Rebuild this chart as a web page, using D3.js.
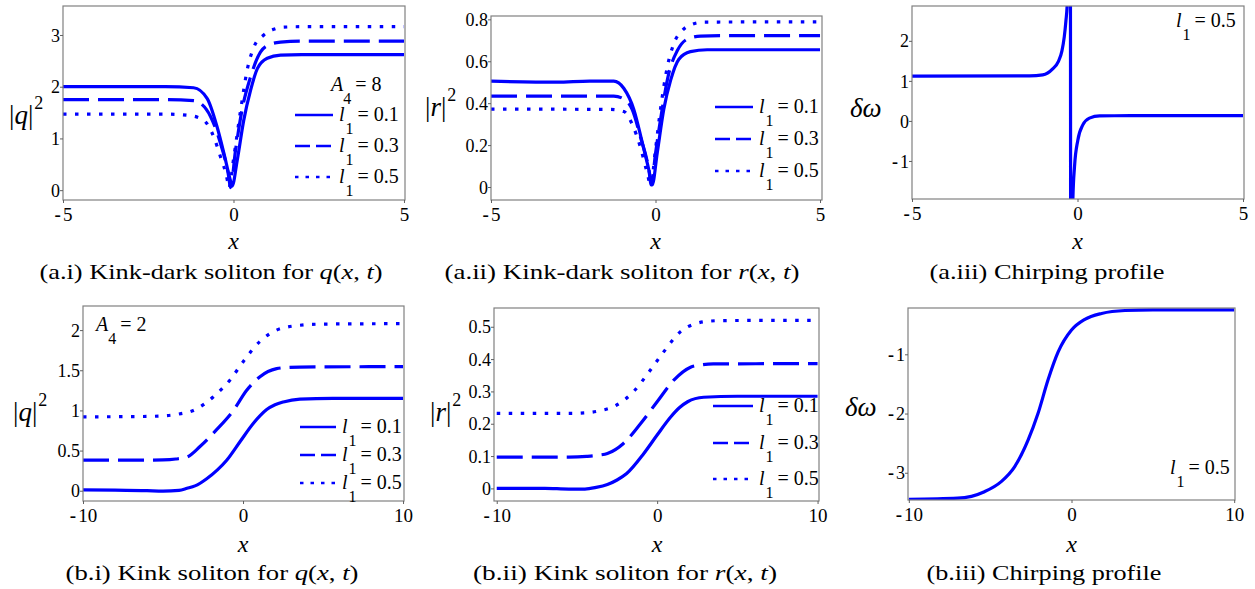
<!DOCTYPE html>
<html>
<head>
<meta charset="utf-8">
<script src="https://cdn.jsdelivr.net/npm/d3@7"></script>
<style>
  body { margin: 0; background: #fff; }
  svg text { font-family: "Liberation Serif", "Times New Roman", serif; fill: #000; }
</style>
</head>
<body>
<svg id="chart" width="1255" height="589"></svg>
<script>
// ---- data: [x, value] ----
const aiSolid  = [[-5,2.0],[-2,2.0],[-1.17,1.98],[-0.77,1.77],[-0.48,1.22],[-0.28,0.71],[-0.09,0.19],[-0.04,0.08],[0.11,0.58],[0.30,1.35],[0.5,1.93],[0.7,2.35],[0.99,2.55],[1.38,2.61],[2,2.62],[5,2.62]];
const aiDashed = [[-5,1.75],[-2,1.75],[-1.17,1.73],[-0.97,1.68],[-0.67,1.42],[-0.38,0.90],[-0.14,0.26],[-0.09,0.05],[0.06,0.77],[0.25,1.55],[0.5,2.19],[0.79,2.67],[1.08,2.82],[1.38,2.86],[2,2.88],[5,2.88]];
const aiDotted = [[-5,1.47],[-2,1.47],[-1.26,1.44],[-0.87,1.35],[-0.58,1.03],[-0.38,0.64],[-0.18,0.19],[-0.14,0.04],[0.01,0.64],[0.21,1.55],[0.40,2.32],[0.6,2.77],[0.89,3.0],[1.18,3.11],[1.47,3.15],[2,3.16],[5,3.16]];

const aiiSolid  = [[-5,0.505],[-3,0.50],[-2,0.505],[-1.27,0.505],[-0.96,0.47],[-0.66,0.37],[-0.40,0.21],[-0.20,0.08],[-0.10,0.01],[0.05,0.16],[0.25,0.37],[0.46,0.51],[0.71,0.61],[1.06,0.646],[1.57,0.655],[5,0.655]];
const aiiDashed = [[-5,0.434],[-1.27,0.434],[-0.96,0.42],[-0.71,0.37],[-0.46,0.24],[-0.20,0.08],[-0.13,0.01],[0.0,0.16],[0.20,0.37],[0.40,0.54],[0.66,0.65],[0.96,0.705],[1.37,0.72],[2,0.722],[5,0.722]];
const aiiDotted = [[-5,0.372],[-1.37,0.37],[-0.96,0.36],[-0.71,0.30],[-0.46,0.19],[-0.25,0.065],[-0.15,0.01],[0.0,0.18],[0.15,0.37],[0.36,0.574],[0.56,0.686],[0.81,0.746],[1.12,0.777],[1.47,0.787],[5,0.788]];

const aiiiChirp = [[-5,1.12],[-1.45,1.125],[-1.05,1.15],[-0.75,1.3],[-0.58,1.48],[-0.47,1.75],[-0.40,2.1],[-0.35,2.5],[-0.31,2.95],[-0.22,8],[-0.2,-8],[-0.14,-1.97],[-0.09,-1.14],[0.01,-0.48],[0.16,-0.1],[0.36,0.07],[0.67,0.125],[1.6,0.13],[5,0.13]];

const biSolid  = [[-10,0.01],[-8,0.008],[-6,0.0],[-5,-0.005],[-4,0.005],[-3.5,0.03],[-3,0.06],[-2.27,0.15],[-1.6,0.26],[-1.02,0.38],[-0.19,0.61],[0.65,0.84],[1.1,0.94],[1.48,1.01],[2,1.07],[2.52,1.105],[3.56,1.14],[5.6,1.15],[10,1.15]];
const biDashed = [[-10,0.38],[-6,0.38],[-5,0.383],[-4.2,0.395],[-3.5,0.42],[-2.69,0.55],[-1.65,0.76],[-0.6,1.0],[0.23,1.25],[1.06,1.42],[2.1,1.52],[2.8,1.535],[3.56,1.54],[10,1.545]];
const biDotted = [[-10,0.92],[-6,0.925],[-4.8,0.935],[-4,0.955],[-3.1,1.0],[-1.85,1.17],[-0.81,1.38],[0.02,1.61],[1.06,1.86],[2.1,2.0],[2.8,2.04],[3.56,2.06],[5,2.075],[10,2.08]];

const biiSolid  = [[-10,0.0],[-7,0.0],[-5.5,-0.002],[-4.5,-0.002],[-3.8,0.003],[-3.1,0.012],[-2.5,0.026],[-1.9,0.046],[-0.83,0.108],[0,0.165],[0.83,0.22],[1.4,0.25],[1.9,0.268],[2.9,0.282],[5,0.285],[10,0.285]];
const biiDashed = [[-10,0.097],[-5.5,0.097],[-4.4,0.099],[-3.6,0.103],[-3.1,0.108],[-2.1,0.139],[-1.04,0.20],[0,0.268],[1.04,0.335],[2.08,0.375],[2.7,0.382],[3.5,0.385],[10,0.386]];
const biiDotted = [[-10,0.232],[-5.5,0.232],[-4.4,0.234],[-3.5,0.241],[-2.7,0.253],[-1.46,0.30],[-0.42,0.366],[0.42,0.423],[1.46,0.485],[2.5,0.511],[3.2,0.517],[3.96,0.519],[10,0.52]];

const biiiChirp = [[-10,-3.45],[-7,-3.43],[-5.35,-3.32],[-4.32,-3.15],[-3.5,-2.9],[-2.67,-2.45],[-2.06,-2.0],[-1.44,-1.43],[-0.82,-0.96],[0,-0.59],[0.82,-0.41],[1.85,-0.31],[3.29,-0.26],[5,-0.25],[10,-0.25]];

// ticks
const xTicksA = [-5, 0, 5];
const xTicksB = [-10, 0, 10];
const yTicksAi = [0, 1, 2, 3];
const yTicksAii = [0, 0.2, 0.4, 0.6, 0.8];
const yTicksAiii = [-1, 0, 1, 2];
const yTicksBi = [0, 0.5, 1, 1.5, 2];
const yTicksBii = [0, 0.1, 0.2, 0.3, 0.4, 0.5];
const yTicksBiii = [-3, -2, -1];

const legendValues = ['0.1', '0.3', '0.5'];

// ---- drawing ----
const svg = d3.select('#chart');
const blue = '#0000ff';
const serif = '"Liberation Serif", "Times New Roman", serif';
const dash = { solid: null, dashed: '26,9', dotted: '3.5,8.5' };
const legendDash = { solid: null, dashed: '15,6', dotted: '3.5,7' };

function tickText(sel, d) {
    sel.attr('font-family', serif);
    if (d < 0) {
        sel.append('tspan').attr('font-weight', 'bold').text('-');
        sel.append('tspan').attr('dx', 2).text(String(-d));
    } else {
        sel.text(String(d));
    }
}

// "l" with subscript 1 and "= v"
function lText(g, x, y, v) {
    const t = g.append('text').attr('x', x).attr('y', y).attr('font-size', 20);
    t.append('tspan').attr('font-style', 'italic').text('l');
    t.append('tspan').attr('font-size', 16).attr('dy', 13).attr('dx', 1).text('1');
    t.append('tspan').attr('dy', -13).attr('dx', 4).text('= ' + v);
}

function aText(g, x, y, v) {
    const t = g.append('text').attr('x', x).attr('y', y).attr('font-size', 20);
    t.append('tspan').attr('font-style', 'italic').text('A');
    t.append('tspan').attr('font-size', 16).attr('dy', 13).text('4');
    t.append('tspan').attr('dy', -13).attr('dx', 4).text('= ' + v);
}

function panel(cfg, idx) {
    const [x0, x1, y0, y1] = cfg.box;
    const x = d3.scaleLinear().domain(cfg.xDom).range([x0, x1]);
    const y = d3.scaleLinear().domain(cfg.yDom).range([y1, y0]);
    const g = svg.append('g');

    const clipId = 'clip' + idx;
    svg.append('clipPath').attr('id', clipId)
        .append('rect').attr('x', x0).attr('y', y0).attr('width', x1 - x0).attr('height', y1 - y0);

    const line = d3.line().x(d => x(d[0])).y(d => y(d[1])).curve(d3.curveMonotoneX);
    cfg.series.forEach(s => {
        g.append('path').datum(s.data)
            .attr('clip-path', `url(#${clipId})`)
            .attr('fill', 'none').attr('stroke', blue).attr('stroke-width', 3.2)
            .attr('stroke-dasharray', dash[s.style])
            .attr('d', line);
    });

    // frame
    g.append('rect').attr('x', x0).attr('y', y0).attr('width', x1 - x0).attr('height', y1 - y0)
        .attr('fill', 'none').attr('stroke', '#808080').attr('stroke-width', 1.2);

    const ya = g.append('g').attr('transform', `translate(${x0},0)`)
        .call(d3.axisLeft(y).tickValues(cfg.yTicks).tickSize(3).tickSizeOuter(0).tickFormat(''));
    ya.attr('font-family', null).attr('font-size', null);
    ya.select('.domain').remove();
    ya.selectAll('line').attr('stroke', '#606060');
    ya.selectAll('.tick').each(function (d) {
        const t = d3.select(this).append('text').attr('x', -3).attr('dy', '0.34em')
            .attr('text-anchor', 'end').attr('font-size', 18);
        tickText(t, d);
    });

    const xa = g.append('g').attr('transform', `translate(0,${y1})`)
        .call(d3.axisBottom(x).tickValues(cfg.xTicks).tickSize(3).tickSizeOuter(0).tickFormat(''));
    xa.attr('font-family', null).attr('font-size', null);
    xa.select('.domain').remove();
    xa.selectAll('line').attr('stroke', '#606060');
    xa.selectAll('.tick').each(function (d) {
        const t = d3.select(this).append('text').attr('y', 21)
            .attr('text-anchor', 'middle').attr('font-size', 19);
        tickText(t, d);
    });

    // axis labels
    g.append('text').attr('x', x(0)).attr('y', cfg.xLabelY).attr('text-anchor', 'middle')
        .attr('font-size', 24).attr('font-style', 'italic').text('x');

    const yl = g.append('text').attr('x', cfg.yLabel[0]).attr('y', cfg.yLabel[1]).attr('font-size', 27);
    if (cfg.yLabel[2] === 'dw') {
        yl.attr('font-style', 'italic').text('δω');
    } else {
        yl.append('tspan').text('|');
        yl.append('tspan').attr('font-style', 'italic').text(cfg.yLabel[2]);
        yl.append('tspan').text('|');
        yl.append('tspan').attr('font-size', 18).attr('dy', -15).attr('dx', 1).text('2');
    }

    // caption
    const cap = g.append('text').attr('x', cfg.caption[0]).attr('y', cfg.caption[1])
        .attr('text-anchor', 'middle').attr('font-size', 22)
        .attr('textLength', cfg.caption[4]).attr('lengthAdjust', 'spacingAndGlyphs');
    cap.append('tspan').text(cfg.caption[2]);
    if (cfg.caption[3]) {
        cap.append('tspan').attr('font-style', 'italic').text(cfg.caption[3]);
        cap.append('tspan').text('(');
        cap.append('tspan').attr('font-style', 'italic').text('x');
        cap.append('tspan').text(', ');
        cap.append('tspan').attr('font-style', 'italic').text('t');
        cap.append('tspan').text(')');
    }

    // legend
    if (cfg.legend) {
        const [lx, rows, len] = cfg.legend;
        cfg.series.forEach((s, i) => {
            g.append('line').attr('x1', lx).attr('x2', lx + len).attr('y1', rows[i]).attr('y2', rows[i])
                .attr('stroke', blue).attr('stroke-width', 2.5).attr('stroke-dasharray', legendDash[s.style]);
            lText(g, lx + len + 6, rows[i] + 6, legendValues[i]);
        });
    }
    if (cfg.aNote) aText(g, cfg.aNote[0], cfg.aNote[1], cfg.aNote[2]);
    if (cfg.lNote) lText(g, cfg.lNote[0], cfg.lNote[1], cfg.lNote[2]);
}

const panels = [
    { box: [63, 405, 6, 200], xDom: [-5, 5.03], yDom: [-0.19, 3.56], xTicks: xTicksA, yTicks: yTicksAi,
      series: [{ data: aiSolid, style: 'solid' }, { data: aiDashed, style: 'dashed' }, { data: aiDotted, style: 'dotted' }],
      xLabelY: 249, yLabel: [9, 124, 'q'], caption: [211, 279, '(a.i) Kink-dark soliton for ', 'q', 343],
      legend: [295, [115, 146, 177], 38], aNote: [331, 91, '8'] },
    { box: [491, 822, 16, 200], xDom: [-5, 5.06], yDom: [-0.062, 0.816], xTicks: xTicksA, yTicks: yTicksAii,
      series: [{ data: aiiSolid, style: 'solid' }, { data: aiiDashed, style: 'dashed' }, { data: aiiDotted, style: 'dotted' }],
      xLabelY: 249, yLabel: [425, 116, 'r'], caption: [622, 279, '(a.ii) Kink-dark soliton for ', 'r', 355],
      legend: [715, [107, 139, 171], 38] },
    { box: [912, 1244, 6, 199], xDom: [-5, 5.03], yDom: [-1.95, 2.87], xTicks: xTicksA, yTicks: yTicksAiii,
      series: [{ data: aiiiChirp, style: 'solid' }],
      xLabelY: 249, yLabel: [850, 117, 'dw'], caption: [1047, 279, '(a.iii) Chirping profile', null, 235],
      lNote: [1176, 27, '0.5'] },
    { box: [83, 404, 306, 501], xDom: [-10, 10.06], yDom: [-0.128, 2.30], xTicks: xTicksB, yTicks: yTicksBi,
      series: [{ data: biSolid, style: 'solid' }, { data: biDashed, style: 'dashed' }, { data: biDotted, style: 'dotted' }],
      xLabelY: 552, yLabel: [13, 421, 'q'], caption: [212, 580, '(b.i) Kink soliton for ', 'q', 293],
      legend: [300, [427, 455, 483], 36], aNote: [96, 331, '2'] },
    { box: [494, 819, 308, 501], xDom: [-10.17, 10.09], yDom: [-0.039, 0.558], xTicks: xTicksB, yTicks: yTicksBii,
      series: [{ data: biiSolid, style: 'solid' }, { data: biiDashed, style: 'dashed' }, { data: biiDotted, style: 'dotted' }],
      xLabelY: 552, yLabel: [430, 421, 'r'], caption: [625, 580, '(b.ii) Kink soliton for ', 'r', 304],
      legend: [713, [406, 443, 479], 40] },
    { box: [908, 1235, 308, 500], xDom: [-10.05, 10.05], yDom: [-3.46, -0.218], xTicks: xTicksB, yTicks: yTicksBiii,
      series: [{ data: biiiChirp, style: 'solid' }],
      xLabelY: 552, yLabel: [845, 416, 'dw'], caption: [1044, 580, '(b.iii) Chirping profile', null, 235],
      lNote: [1170, 474, '0.5'] }
];

panels.forEach(panel);
</script>
</body>
</html>
